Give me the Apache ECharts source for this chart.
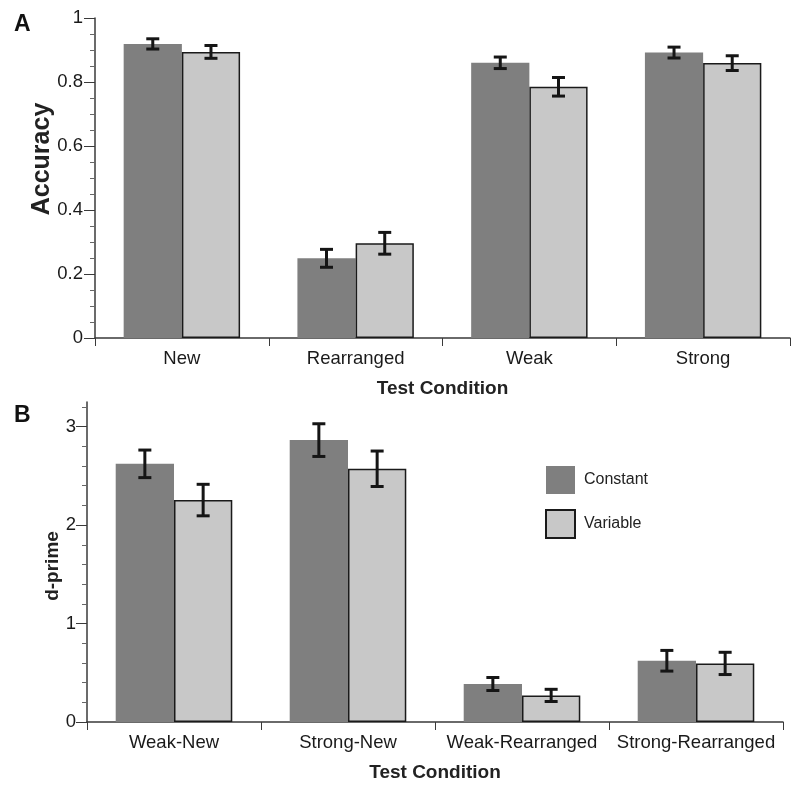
<!DOCTYPE html>
<html>
<head>
<meta charset="utf-8">
<script src="https://cdn.jsdelivr.net/npm/echarts@6/dist/echarts.min.js"></script>
<style>
html,body{margin:0;padding:0;background:#fff;}
#chart{width:800px;height:789px;}
</style>
</head>
<body>
<div id="chart"></div>
<script>
// ---- Data ----
var accCategories = ['New', 'Rearranged', 'Weak', 'Strong'];
var accConstant = [0.919, 0.249, 0.860, 0.892];
var accConstantErr = [0.016, 0.028, 0.018, 0.017];
var accVariable = [0.894, 0.296, 0.785, 0.859];
var accVariableErr = [0.020, 0.034, 0.029, 0.023];

var dpCategories = ['Weak-New', 'Strong-New', 'Weak-Rearranged', 'Strong-Rearranged'];
var dpConstant = [2.622, 2.863, 0.386, 0.622];
var dpConstantErr = [0.140, 0.166, 0.066, 0.105];
var dpVariable = [2.254, 2.572, 0.270, 0.595];
var dpVariableErr = [0.160, 0.180, 0.062, 0.113];

var accTicks = [0, 0.2, 0.4, 0.6, 0.8, 1];
var dpTicks = [0, 1, 2, 3];

var seriesNames = ['Constant', 'Variable'];

// ---- Styles ----
var FONT = 'Liberation Sans, Arial, Helvetica, sans-serif';
var AXIS_COLOR = '#3a3a3a';
var CONST_COLOR = '#7f7f7f';
var VAR_COLOR = '#c8c8c8';
var GAP = 0.33;

function errData(vals, errs) {
  return vals.map(function (v, i) { return [i, v, errs[i]]; });
}

function errRender(sign) {
  return function (params, api) {
    var x = api.value(0), v = api.value(1), e = api.value(2);
    var band = api.size([1, 0])[0];
    var bw = band * (1 - GAP) / 2;
    var cx = api.coord([x, v])[0] + sign * bw / 2;
    var yTop = api.coord([x, v + e])[1];
    var yBot = api.coord([x, v - e])[1];
    var cap = 6.5;
    var st = { stroke: '#151515', lineWidth: 3 };
    return {
      type: 'group',
      children: [
        { type: 'line', shape: { x1: cx, y1: yTop, x2: cx, y2: yBot }, style: st },
        { type: 'line', shape: { x1: cx - cap, y1: yTop, x2: cx + cap, y2: yTop }, style: st },
        { type: 'line', shape: { x1: cx - cap, y1: yBot, x2: cx + cap, y2: yBot }, style: st }
      ]
    };
  };
}

function xAxisCfg(idx, cats) {
  return {
    type: 'category', gridIndex: idx, data: cats,
    name: 'Test Condition', nameLocation: 'middle', nameGap: 41,
    nameTextStyle: { fontFamily: FONT, fontSize: 19, fontWeight: 'bold', color: '#222' },
    axisLine: { lineStyle: { color: AXIS_COLOR, width: 1.5 } },
    axisTick: { show: true, length: 8, alignWithLabel: false, lineStyle: { color: AXIS_COLOR, width: 1 } },
    axisLabel: { fontFamily: FONT, fontSize: 18.5, color: '#1a1a1a', margin: 11, interval: 0 },
    splitLine: { show: false }
  };
}

function yAxisCfg(idx, min, max, interval, ticks, minorSplit, margin) {
  return {
    type: 'value', gridIndex: idx, min: min, max: max, interval: interval,
    axisLine: { show: true, lineStyle: { color: AXIS_COLOR, width: 1.5 } },
    axisTick: { show: true, length: 11, customValues: ticks, lineStyle: { color: AXIS_COLOR, width: 1 } },
    minorTick: { show: true, splitNumber: minorSplit, length: 5, lineStyle: { color: '#666', width: 1 } },
    axisLabel: { fontFamily: FONT, fontSize: 18.5, color: '#1a1a1a', margin: margin, customValues: ticks },
    splitLine: { show: false },
    minorSplitLine: { show: false }
  };
}

var option = {
  backgroundColor: '#fff',
  animation: false,
  grid: [
    { left: 95, right: 10, top: 18, height: 320 },
    { left: 87, right: 17, top: 402, height: 320 }
  ],
  legend: {
    data: seriesNames,
    orient: 'vertical',
    left: 540, top: 461,
    itemWidth: 29, itemHeight: 28, itemGap: 15,
    icon: 'rect',
    textStyle: { fontFamily: FONT, fontSize: 16, color: '#222', padding: [0, 0, 0, 4] }
  },
  xAxis: [xAxisCfg(0, accCategories), xAxisCfg(1, dpCategories)],
  yAxis: [
    yAxisCfg(0, 0, 1, 0.2, accTicks, 4, 12),
    yAxisCfg(1, 0, 3.25, 1, dpTicks, 5, 11)
  ],
  graphic: [
    { type: 'text', left: 14, top: 13, style: { text: 'A', font: 'bold 23px ' + FONT, fill: '#111' } },
    { type: 'text', left: 14, top: 404, style: { text: 'B', font: 'bold 23px ' + FONT, fill: '#111' } },
    { type: 'text', x: 42, y: 159, rotation: Math.PI / 2,
      style: { text: 'Accuracy', font: 'bold 25px ' + FONT, fill: '#222', align: 'center', verticalAlign: 'middle' } },
    { type: 'text', x: 53, y: 566, rotation: Math.PI / 2,
      style: { text: 'd-prime', font: 'bold 19px ' + FONT, fill: '#222', align: 'center', verticalAlign: 'middle' } }
  ],
  series: [
    { name: 'Constant', type: 'bar', xAxisIndex: 0, yAxisIndex: 0, data: accConstant,
      barGap: '0%', barCategoryGap: '33%', itemStyle: { color: CONST_COLOR } },
    { name: 'Variable', type: 'bar', xAxisIndex: 0, yAxisIndex: 0, data: accVariable,
      barGap: '0%', barCategoryGap: '33%', itemStyle: { color: VAR_COLOR, borderColor: '#1a1a1a', borderWidth: 1.5 } },
    { name: 'Constant', type: 'bar', xAxisIndex: 1, yAxisIndex: 1, data: dpConstant,
      barGap: '0%', barCategoryGap: '33%', itemStyle: { color: CONST_COLOR } },
    { name: 'Variable', type: 'bar', xAxisIndex: 1, yAxisIndex: 1, data: dpVariable,
      barGap: '0%', barCategoryGap: '33%', itemStyle: { color: VAR_COLOR, borderColor: '#1a1a1a', borderWidth: 1.5 } },
    { name: 'errAccC', type: 'custom', xAxisIndex: 0, yAxisIndex: 0, z: 5,
      data: errData(accConstant, accConstantErr), renderItem: errRender(-1), encode: { x: 0, y: 1 } },
    { name: 'errAccV', type: 'custom', xAxisIndex: 0, yAxisIndex: 0, z: 5,
      data: errData(accVariable, accVariableErr), renderItem: errRender(1), encode: { x: 0, y: 1 } },
    { name: 'errDpC', type: 'custom', xAxisIndex: 1, yAxisIndex: 1, z: 5,
      data: errData(dpConstant, dpConstantErr), renderItem: errRender(-1), encode: { x: 0, y: 1 } },
    { name: 'errDpV', type: 'custom', xAxisIndex: 1, yAxisIndex: 1, z: 5,
      data: errData(dpVariable, dpVariableErr), renderItem: errRender(1), encode: { x: 0, y: 1 } }
  ]
};

var chart = echarts.init(document.getElementById('chart'), null, { renderer: 'canvas' });
chart.setOption(option);
</script>
</body>
</html>
